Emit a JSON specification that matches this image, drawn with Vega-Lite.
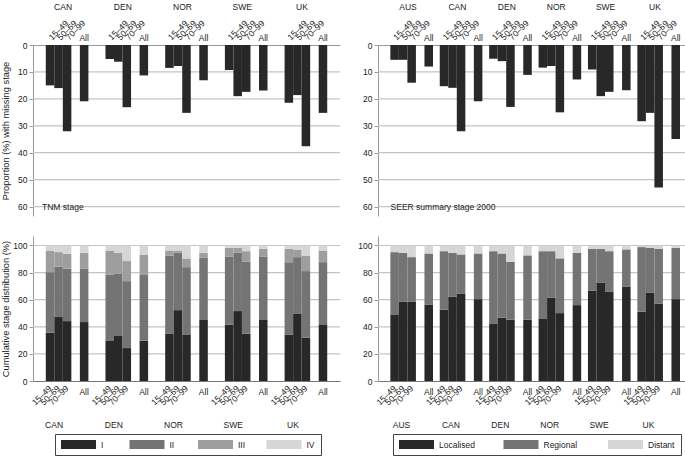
{
  "$schema": "https://vega.github.io/schema/vega-lite/v6.json",
  "description": "Missing stage and stage distribution by country and age, TNM and SEER summary stage.",
  "padding": {"left": 0, "top": 2, "right": 0, "bottom": 0},
  "config": {
    "font": "Liberation Sans",
    "view": {"stroke": null},
    "axis": {
      "labelFontSize": 8.5,
      "labelColor": "#222",
      "titleFontSize": 9.3,
      "titleFontWeight": "normal",
      "titleColor": "#222",
      "domainColor": "#999",
      "tickColor": "#999",
      "grid": false
    },
    "rule": {"color": "#c4c4c4", "strokeWidth": 1.2},
    "text": {"fontSize": 8.5, "color": "#222"},
    "legend": {"labelFontSize": 8.5, "labelColor": "#222"}
  },
  "datasets": {
    "grid_missing": [{"tick": 10}, {"tick": 20}, {"tick": 30}, {"tick": 40}, {"tick": 50}, {"tick": 60}],
    "grid_stage": [{"tick": 20}, {"tick": 40}, {"tick": 60}, {"tick": 80}, {"tick": 100}],
    "tnm_missing": [
      {"country": "CAN", "age": "15–49", "pct": 15.0},
      {"country": "CAN", "age": "50–69", "pct": 16.0},
      {"country": "CAN", "age": "70–99", "pct": 32.0},
      {"country": "CAN", "age": "All", "pct": 20.9},
      {"country": "DEN", "age": "15–49", "pct": 5.2},
      {"country": "DEN", "age": "50–69", "pct": 6.2},
      {"country": "DEN", "age": "70–99", "pct": 23.1},
      {"country": "DEN", "age": "All", "pct": 11.3},
      {"country": "NOR", "age": "15–49", "pct": 8.5},
      {"country": "NOR", "age": "50–69", "pct": 7.8},
      {"country": "NOR", "age": "70–99", "pct": 25.2},
      {"country": "NOR", "age": "All", "pct": 13.1},
      {"country": "SWE", "age": "15–49", "pct": 9.3},
      {"country": "SWE", "age": "50–69", "pct": 19.0},
      {"country": "SWE", "age": "70–99", "pct": 17.4},
      {"country": "SWE", "age": "All", "pct": 16.9},
      {"country": "UK", "age": "15–49", "pct": 21.4},
      {"country": "UK", "age": "50–69", "pct": 18.6},
      {"country": "UK", "age": "70–99", "pct": 37.6},
      {"country": "UK", "age": "All", "pct": 25.2}
    ],
    "seer_missing": [
      {"country": "AUS", "age": "15–49", "pct": 5.5},
      {"country": "AUS", "age": "50–69", "pct": 5.5},
      {"country": "AUS", "age": "70–99", "pct": 14.0},
      {"country": "AUS", "age": "All", "pct": 8.0},
      {"country": "CAN", "age": "15–49", "pct": 15.3},
      {"country": "CAN", "age": "50–69", "pct": 15.9},
      {"country": "CAN", "age": "70–99", "pct": 32.0},
      {"country": "CAN", "age": "All", "pct": 20.9},
      {"country": "DEN", "age": "15–49", "pct": 5.1},
      {"country": "DEN", "age": "50–69", "pct": 6.0},
      {"country": "DEN", "age": "70–99", "pct": 23.0},
      {"country": "DEN", "age": "All", "pct": 11.1},
      {"country": "NOR", "age": "15–49", "pct": 8.4},
      {"country": "NOR", "age": "50–69", "pct": 7.8},
      {"country": "NOR", "age": "70–99", "pct": 25.0},
      {"country": "NOR", "age": "All", "pct": 12.8},
      {"country": "SWE", "age": "15–49", "pct": 9.1},
      {"country": "SWE", "age": "50–69", "pct": 19.0},
      {"country": "SWE", "age": "70–99", "pct": 17.4},
      {"country": "SWE", "age": "All", "pct": 16.8},
      {"country": "UK", "age": "15–49", "pct": 28.3},
      {"country": "UK", "age": "50–69", "pct": 25.2},
      {"country": "UK", "age": "70–99", "pct": 52.9},
      {"country": "UK", "age": "All", "pct": 34.9}
    ],
    "tnm_stage": [
      {"country": "CAN", "age": "15–49", "stage": "I", "pct": 35.6},
      {"country": "CAN", "age": "15–49", "stage": "II", "pct": 44.7},
      {"country": "CAN", "age": "15–49", "stage": "III", "pct": 16.0},
      {"country": "CAN", "age": "15–49", "stage": "IV", "pct": 3.7},
      {"country": "CAN", "age": "50–69", "stage": "I", "pct": 47.2},
      {"country": "CAN", "age": "50–69", "stage": "II", "pct": 37.1},
      {"country": "CAN", "age": "50–69", "stage": "III", "pct": 10.8},
      {"country": "CAN", "age": "50–69", "stage": "IV", "pct": 4.9},
      {"country": "CAN", "age": "70–99", "stage": "I", "pct": 44.2},
      {"country": "CAN", "age": "70–99", "stage": "II", "pct": 38.8},
      {"country": "CAN", "age": "70–99", "stage": "III", "pct": 10.9},
      {"country": "CAN", "age": "70–99", "stage": "IV", "pct": 6.1},
      {"country": "CAN", "age": "All", "stage": "I", "pct": 43.5},
      {"country": "CAN", "age": "All", "stage": "II", "pct": 39.5},
      {"country": "CAN", "age": "All", "stage": "III", "pct": 11.6},
      {"country": "CAN", "age": "All", "stage": "IV", "pct": 5.4},
      {"country": "DEN", "age": "15–49", "stage": "I", "pct": 29.5},
      {"country": "DEN", "age": "15–49", "stage": "II", "pct": 49.1},
      {"country": "DEN", "age": "15–49", "stage": "III", "pct": 17.7},
      {"country": "DEN", "age": "15–49", "stage": "IV", "pct": 3.7},
      {"country": "DEN", "age": "50–69", "stage": "I", "pct": 33.2},
      {"country": "DEN", "age": "50–69", "stage": "II", "pct": 46.2},
      {"country": "DEN", "age": "50–69", "stage": "III", "pct": 15.2},
      {"country": "DEN", "age": "50–69", "stage": "IV", "pct": 5.4},
      {"country": "DEN", "age": "70–99", "stage": "I", "pct": 24.3},
      {"country": "DEN", "age": "70–99", "stage": "II", "pct": 49.4},
      {"country": "DEN", "age": "70–99", "stage": "III", "pct": 14.8},
      {"country": "DEN", "age": "70–99", "stage": "IV", "pct": 11.5},
      {"country": "DEN", "age": "All", "stage": "I", "pct": 29.7},
      {"country": "DEN", "age": "All", "stage": "II", "pct": 48.5},
      {"country": "DEN", "age": "All", "stage": "III", "pct": 15.0},
      {"country": "DEN", "age": "All", "stage": "IV", "pct": 6.8},
      {"country": "NOR", "age": "15–49", "stage": "I", "pct": 35.1},
      {"country": "NOR", "age": "15–49", "stage": "II", "pct": 57.5},
      {"country": "NOR", "age": "15–49", "stage": "III", "pct": 3.7},
      {"country": "NOR", "age": "15–49", "stage": "IV", "pct": 3.7},
      {"country": "NOR", "age": "50–69", "stage": "I", "pct": 52.3},
      {"country": "NOR", "age": "50–69", "stage": "II", "pct": 42.3},
      {"country": "NOR", "age": "50–69", "stage": "III", "pct": 1.7},
      {"country": "NOR", "age": "50–69", "stage": "IV", "pct": 3.7},
      {"country": "NOR", "age": "70–99", "stage": "I", "pct": 34.4},
      {"country": "NOR", "age": "70–99", "stage": "II", "pct": 49.6},
      {"country": "NOR", "age": "70–99", "stage": "III", "pct": 6.4},
      {"country": "NOR", "age": "70–99", "stage": "IV", "pct": 9.6},
      {"country": "NOR", "age": "All", "stage": "I", "pct": 45.0},
      {"country": "NOR", "age": "All", "stage": "II", "pct": 45.9},
      {"country": "NOR", "age": "All", "stage": "III", "pct": 3.7},
      {"country": "NOR", "age": "All", "stage": "IV", "pct": 5.4},
      {"country": "SWE", "age": "15–49", "stage": "I", "pct": 41.5},
      {"country": "SWE", "age": "15–49", "stage": "II", "pct": 50.1},
      {"country": "SWE", "age": "15–49", "stage": "III", "pct": 6.7},
      {"country": "SWE", "age": "15–49", "stage": "IV", "pct": 1.7},
      {"country": "SWE", "age": "50–69", "stage": "I", "pct": 51.6},
      {"country": "SWE", "age": "50–69", "stage": "II", "pct": 43.0},
      {"country": "SWE", "age": "50–69", "stage": "III", "pct": 3.7},
      {"country": "SWE", "age": "50–69", "stage": "IV", "pct": 1.7},
      {"country": "SWE", "age": "70–99", "stage": "I", "pct": 34.9},
      {"country": "SWE", "age": "70–99", "stage": "II", "pct": 53.1},
      {"country": "SWE", "age": "70–99", "stage": "III", "pct": 7.8},
      {"country": "SWE", "age": "70–99", "stage": "IV", "pct": 4.2},
      {"country": "SWE", "age": "All", "stage": "I", "pct": 45.5},
      {"country": "SWE", "age": "All", "stage": "II", "pct": 46.1},
      {"country": "SWE", "age": "All", "stage": "III", "pct": 5.9},
      {"country": "SWE", "age": "All", "stage": "IV", "pct": 2.5},
      {"country": "UK", "age": "15–49", "stage": "I", "pct": 34.4},
      {"country": "UK", "age": "15–49", "stage": "II", "pct": 53.3},
      {"country": "UK", "age": "15–49", "stage": "III", "pct": 9.8},
      {"country": "UK", "age": "15–49", "stage": "IV", "pct": 2.5},
      {"country": "UK", "age": "50–69", "stage": "I", "pct": 49.9},
      {"country": "UK", "age": "50–69", "stage": "II", "pct": 41.5},
      {"country": "UK", "age": "50–69", "stage": "III", "pct": 5.6},
      {"country": "UK", "age": "50–69", "stage": "IV", "pct": 3.0},
      {"country": "UK", "age": "70–99", "stage": "I", "pct": 31.9},
      {"country": "UK", "age": "70–99", "stage": "II", "pct": 49.2},
      {"country": "UK", "age": "70–99", "stage": "III", "pct": 11.5},
      {"country": "UK", "age": "70–99", "stage": "IV", "pct": 7.4},
      {"country": "UK", "age": "All", "stage": "I", "pct": 41.8},
      {"country": "UK", "age": "All", "stage": "II", "pct": 45.9},
      {"country": "UK", "age": "All", "stage": "III", "pct": 8.6},
      {"country": "UK", "age": "All", "stage": "IV", "pct": 3.7}
    ],
    "seer_stage": [
      {"country": "AUS", "age": "15–49", "stage": "Localised", "rank": 1, "pct": 48.7},
      {"country": "AUS", "age": "15–49", "stage": "Regional", "rank": 2, "pct": 46.4},
      {"country": "AUS", "age": "15–49", "stage": "Distant", "rank": 3, "pct": 4.9},
      {"country": "AUS", "age": "50–69", "stage": "Localised", "rank": 1, "pct": 58.4},
      {"country": "AUS", "age": "50–69", "stage": "Regional", "rank": 2, "pct": 36.2},
      {"country": "AUS", "age": "50–69", "stage": "Distant", "rank": 3, "pct": 5.4},
      {"country": "AUS", "age": "70–99", "stage": "Localised", "rank": 1, "pct": 58.4},
      {"country": "AUS", "age": "70–99", "stage": "Regional", "rank": 2, "pct": 33.0},
      {"country": "AUS", "age": "70–99", "stage": "Distant", "rank": 3, "pct": 8.6},
      {"country": "AUS", "age": "All", "stage": "Localised", "rank": 1, "pct": 56.2},
      {"country": "AUS", "age": "All", "stage": "Regional", "rank": 2, "pct": 37.9},
      {"country": "AUS", "age": "All", "stage": "Distant", "rank": 3, "pct": 5.9},
      {"country": "CAN", "age": "15–49", "stage": "Localised", "rank": 1, "pct": 52.6},
      {"country": "CAN", "age": "15–49", "stage": "Regional", "rank": 2, "pct": 43.2},
      {"country": "CAN", "age": "15–49", "stage": "Distant", "rank": 3, "pct": 4.2},
      {"country": "CAN", "age": "50–69", "stage": "Localised", "rank": 1, "pct": 62.1},
      {"country": "CAN", "age": "50–69", "stage": "Regional", "rank": 2, "pct": 32.5},
      {"country": "CAN", "age": "50–69", "stage": "Distant", "rank": 3, "pct": 5.4},
      {"country": "CAN", "age": "70–99", "stage": "Localised", "rank": 1, "pct": 64.5},
      {"country": "CAN", "age": "70–99", "stage": "Regional", "rank": 2, "pct": 28.9},
      {"country": "CAN", "age": "70–99", "stage": "Distant", "rank": 3, "pct": 6.6},
      {"country": "CAN", "age": "All", "stage": "Localised", "rank": 1, "pct": 60.4},
      {"country": "CAN", "age": "All", "stage": "Regional", "rank": 2, "pct": 33.7},
      {"country": "CAN", "age": "All", "stage": "Distant", "rank": 3, "pct": 5.9},
      {"country": "DEN", "age": "15–49", "stage": "Localised", "rank": 1, "pct": 42.1},
      {"country": "DEN", "age": "15–49", "stage": "Regional", "rank": 2, "pct": 53.7},
      {"country": "DEN", "age": "15–49", "stage": "Distant", "rank": 3, "pct": 4.2},
      {"country": "DEN", "age": "50–69", "stage": "Localised", "rank": 1, "pct": 46.7},
      {"country": "DEN", "age": "50–69", "stage": "Regional", "rank": 2, "pct": 47.4},
      {"country": "DEN", "age": "50–69", "stage": "Distant", "rank": 3, "pct": 5.9},
      {"country": "DEN", "age": "70–99", "stage": "Localised", "rank": 1, "pct": 45.2},
      {"country": "DEN", "age": "70–99", "stage": "Regional", "rank": 2, "pct": 42.8},
      {"country": "DEN", "age": "70–99", "stage": "Distant", "rank": 3, "pct": 12.0},
      {"country": "DEN", "age": "All", "stage": "Localised", "rank": 1, "pct": 45.2},
      {"country": "DEN", "age": "All", "stage": "Regional", "rank": 2, "pct": 47.5},
      {"country": "DEN", "age": "All", "stage": "Distant", "rank": 3, "pct": 7.3},
      {"country": "NOR", "age": "15–49", "stage": "Localised", "rank": 1, "pct": 46.2},
      {"country": "NOR", "age": "15–49", "stage": "Regional", "rank": 2, "pct": 49.6},
      {"country": "NOR", "age": "15–49", "stage": "Distant", "rank": 3, "pct": 4.2},
      {"country": "NOR", "age": "50–69", "stage": "Localised", "rank": 1, "pct": 61.6},
      {"country": "NOR", "age": "50–69", "stage": "Regional", "rank": 2, "pct": 34.2},
      {"country": "NOR", "age": "50–69", "stage": "Distant", "rank": 3, "pct": 4.2},
      {"country": "NOR", "age": "70–99", "stage": "Localised", "rank": 1, "pct": 50.1},
      {"country": "NOR", "age": "70–99", "stage": "Regional", "rank": 2, "pct": 40.4},
      {"country": "NOR", "age": "70–99", "stage": "Distant", "rank": 3, "pct": 9.5},
      {"country": "NOR", "age": "All", "stage": "Localised", "rank": 1, "pct": 56.0},
      {"country": "NOR", "age": "All", "stage": "Regional", "rank": 2, "pct": 38.6},
      {"country": "NOR", "age": "All", "stage": "Distant", "rank": 3, "pct": 5.4},
      {"country": "SWE", "age": "15–49", "stage": "Localised", "rank": 1, "pct": 66.5},
      {"country": "SWE", "age": "15–49", "stage": "Regional", "rank": 2, "pct": 31.1},
      {"country": "SWE", "age": "15–49", "stage": "Distant", "rank": 3, "pct": 2.4},
      {"country": "SWE", "age": "50–69", "stage": "Localised", "rank": 1, "pct": 72.6},
      {"country": "SWE", "age": "50–69", "stage": "Regional", "rank": 2, "pct": 25.0},
      {"country": "SWE", "age": "50–69", "stage": "Distant", "rank": 3, "pct": 2.4},
      {"country": "SWE", "age": "70–99", "stage": "Localised", "rank": 1, "pct": 65.8},
      {"country": "SWE", "age": "70–99", "stage": "Regional", "rank": 2, "pct": 30.0},
      {"country": "SWE", "age": "70–99", "stage": "Distant", "rank": 3, "pct": 4.2},
      {"country": "SWE", "age": "All", "stage": "Localised", "rank": 1, "pct": 69.7},
      {"country": "SWE", "age": "All", "stage": "Regional", "rank": 2, "pct": 27.4},
      {"country": "SWE", "age": "All", "stage": "Distant", "rank": 3, "pct": 2.9},
      {"country": "UK", "age": "15–49", "stage": "Localised", "rank": 1, "pct": 51.1},
      {"country": "UK", "age": "15–49", "stage": "Regional", "rank": 2, "pct": 47.7},
      {"country": "UK", "age": "15–49", "stage": "Distant", "rank": 3, "pct": 1.2},
      {"country": "UK", "age": "50–69", "stage": "Localised", "rank": 1, "pct": 65.3},
      {"country": "UK", "age": "50–69", "stage": "Regional", "rank": 2, "pct": 33.0},
      {"country": "UK", "age": "50–69", "stage": "Distant", "rank": 3, "pct": 1.7},
      {"country": "UK", "age": "70–99", "stage": "Localised", "rank": 1, "pct": 57.2},
      {"country": "UK", "age": "70–99", "stage": "Regional", "rank": 2, "pct": 40.4},
      {"country": "UK", "age": "70–99", "stage": "Distant", "rank": 3, "pct": 2.4},
      {"country": "UK", "age": "All", "stage": "Localised", "rank": 1, "pct": 60.4},
      {"country": "UK", "age": "All", "stage": "Regional", "rank": 2, "pct": 37.9},
      {"country": "UK", "age": "All", "stage": "Distant", "rank": 3, "pct": 1.7}
    ]
  },
  "spacing": 20,
  "resolve": {"scale": {"color": "independent"}, "legend": {"color": "independent"}},
  "vconcat": [
    {
      "hconcat": [
        {
          "width": 307,
          "height": 171,
          "layer": [
            {
              "data": {"name": "grid_missing"},
              "mark": {"type": "rule"},
              "encoding": {
                "y": {
                  "field": "tick", "type": "quantitative",
                  "scale": {"domain": [0, 63.5], "reverse": true, "nice": false},
                  "axis": {"title": "Proportion (%) with missing stage", "values": [0, 10, 20, 30, 40, 50, 60], "tickSize": 4, "labelPadding": 2, "titleX": -23}
                }
              }
            },
            {
              "data": {"name": "tnm_missing"},
              "encoding": {
                "x": {
                  "field": "country", "type": "nominal",
                  "scale": {"domain": ["CAN", "DEN", "NOR", "SWE", "UK"], "paddingInner": 0.286, "paddingOuter": 0.214},
                  "axis": {"orient": "top", "title": null, "ticks": false, "labelAngle": 0, "labelPadding": 34, "labelOffset": -4}
                },
                "xOffset": {
                  "field": "age", "type": "nominal",
                  "scale": {"domain": ["15–49", "50–69", "70–99", "gap", "All"], "paddingInner": 0, "paddingOuter": 0}
                }
              },
              "layer": [
                {
                  "mark": {"type": "bar", "color": "#282828"},
                  "encoding": {
                    "y": {
                      "field": "pct", "type": "quantitative",
                      "scale": {"domain": [0, 63.5], "reverse": true, "nice": false},
                      "axis": {"title": "Proportion (%) with missing stage", "values": [0, 10, 20, 30, 40, 50, 60], "tickSize": 4, "labelPadding": 2, "titleX": -23}
                    }
                  }
                },
                {
                  "transform": [{"filter": "datum.age != 'All'"}],
                  "mark": {"type": "text", "angle": 315, "align": "left", "baseline": "middle"},
                  "encoding": {
                    "y": {
                      "datum": -2.4,
                      "scale": {"domain": [0, 63.5], "reverse": true, "nice": false},
                      "axis": {"title": "Proportion (%) with missing stage", "values": [0, 10, 20, 30, 40, 50, 60], "tickSize": 4, "labelPadding": 2, "titleX": -23}
                    },
                    "text": {"field": "age"}
                  }
                },
                {
                  "transform": [{"filter": "datum.age == 'All'"}],
                  "mark": {"type": "text", "align": "center", "baseline": "alphabetic"},
                  "encoding": {
                    "y": {
                      "datum": -1.5,
                      "scale": {"domain": [0, 63.5], "reverse": true, "nice": false},
                      "axis": {"title": "Proportion (%) with missing stage", "values": [0, 10, 20, 30, 40, 50, 60], "tickSize": 4, "labelPadding": 2, "titleX": -23}
                    },
                    "text": {"field": "age"}
                  }
                },
                {
                  "data": {"values": [{"note": "TNM stage"}]},
                  "mark": {"type": "text", "align": "left", "baseline": "middle", "dx": -8},
                  "encoding": {
                    "x": {"datum": "CAN"},
                    "xOffset": {"datum": "15–49"},
                    "y": {
                      "datum": 60,
                      "scale": {"domain": [0, 63.5], "reverse": true, "nice": false},
                      "axis": {"title": "Proportion (%) with missing stage", "values": [0, 10, 20, 30, 40, 50, 60], "tickSize": 4, "labelPadding": 2, "titleX": -23}
                    },
                    "text": {"field": "note"}
                  }
                }
              ]
            }
          ]
        },
        {
          "width": 307,
          "height": 171,
          "layer": [
            {
              "data": {"name": "grid_missing"},
              "mark": {"type": "rule"},
              "encoding": {
                "y": {
                  "field": "tick", "type": "quantitative",
                  "scale": {"domain": [0, 63.5], "reverse": true, "nice": false},
                  "axis": {"title": null, "values": [0, 10, 20, 30, 40, 50, 60], "tickSize": 4, "labelPadding": 2}
                }
              }
            },
            {
              "data": {"name": "seer_missing"},
              "encoding": {
                "x": {
                  "field": "country", "type": "nominal",
                  "scale": {"domain": ["AUS", "CAN", "DEN", "NOR", "SWE", "UK"], "paddingInner": 0.2857, "paddingOuter": 0.25},
                  "axis": {"orient": "top", "title": null, "ticks": false, "labelAngle": 0, "labelPadding": 34, "labelOffset": 0}
                },
                "xOffset": {
                  "field": "age", "type": "nominal",
                  "scale": {"domain": ["15–49", "50–69", "70–99", "gap", "All"], "paddingInner": 0, "paddingOuter": 0}
                }
              },
              "layer": [
                {
                  "mark": {"type": "bar", "color": "#282828"},
                  "encoding": {
                    "y": {
                      "field": "pct", "type": "quantitative",
                      "scale": {"domain": [0, 63.5], "reverse": true, "nice": false},
                      "axis": {"title": null, "values": [0, 10, 20, 30, 40, 50, 60], "tickSize": 4, "labelPadding": 2}
                    }
                  }
                },
                {
                  "transform": [{"filter": "datum.age != 'All'"}],
                  "mark": {"type": "text", "angle": 315, "align": "left", "baseline": "middle"},
                  "encoding": {
                    "y": {
                      "datum": -2.4,
                      "scale": {"domain": [0, 63.5], "reverse": true, "nice": false},
                      "axis": {"title": null, "values": [0, 10, 20, 30, 40, 50, 60], "tickSize": 4, "labelPadding": 2}
                    },
                    "text": {"field": "age"}
                  }
                },
                {
                  "transform": [{"filter": "datum.age == 'All'"}],
                  "mark": {"type": "text", "align": "center", "baseline": "alphabetic"},
                  "encoding": {
                    "y": {
                      "datum": -1.5,
                      "scale": {"domain": [0, 63.5], "reverse": true, "nice": false},
                      "axis": {"title": null, "values": [0, 10, 20, 30, 40, 50, 60], "tickSize": 4, "labelPadding": 2}
                    },
                    "text": {"field": "age"}
                  }
                },
                {
                  "data": {"values": [{"note": "SEER summary stage 2000"}]},
                  "mark": {"type": "text", "align": "left", "baseline": "middle", "dx": -4},
                  "encoding": {
                    "x": {"datum": "AUS"},
                    "xOffset": {"datum": "15–49"},
                    "y": {
                      "datum": 60,
                      "scale": {"domain": [0, 63.5], "reverse": true, "nice": false},
                      "axis": {"title": null, "values": [0, 10, 20, 30, 40, 50, 60], "tickSize": 4, "labelPadding": 2}
                    },
                    "text": {"field": "note"}
                  }
                }
              ]
            }
          ]
        }
      ],
      "spacing": 38,
      "bounds": "flush"
    },
    {
      "hconcat": [
        {
          "width": 307,
          "height": 145,
          "layer": [
            {
              "data": {"name": "grid_stage"},
              "mark": {"type": "rule"},
              "encoding": {
                "y": {
                  "field": "tick", "type": "quantitative",
                  "scale": {"domain": [0, 107], "nice": false},
                  "axis": {"title": "Cumulative stage distribution (%)", "values": [0, 20, 40, 60, 80, 100], "tickSize": 4, "labelPadding": 2, "titleX": -23}
                }
              }
            },
            {
              "data": {"name": "tnm_stage"},
              "encoding": {
                "x": {
                  "field": "country", "type": "nominal",
                  "scale": {"domain": ["CAN", "DEN", "NOR", "SWE", "UK"], "paddingInner": 0.286, "paddingOuter": 0.214},
                  "axis": {"orient": "bottom", "title": null, "ticks": false, "labelAngle": 0, "labelPadding": 39, "labelBaseline": "top", "labelOffset": -13, "domainColor": "#777"}
                },
                "xOffset": {
                  "field": "age", "type": "nominal",
                  "scale": {"domain": ["15–49", "50–69", "70–99", "gap", "All"], "paddingInner": 0, "paddingOuter": 0}
                }
              },
              "layer": [
                {
                  "mark": {"type": "bar"},
                  "encoding": {
                    "y": {
                      "field": "pct", "type": "quantitative", "stack": "zero",
                      "scale": {"domain": [0, 107], "nice": false},
                      "axis": {"title": "Cumulative stage distribution (%)", "values": [0, 20, 40, 60, 80, 100], "tickSize": 4, "labelPadding": 2, "titleX": -23}
                    },
                    "color": {
                      "field": "stage", "type": "nominal",
                      "scale": {"domain": ["I", "II", "III", "IV"], "range": ["#282828", "#747474", "#9e9e9e", "#d6d6d6"]},
                      "legend": {
                        "orient": "none", "legendX": 22, "legendY": 198, "direction": "horizontal", "title": null,
                        "symbolType": "M-1,-1H6.78V1H-1Z", "symbolSize": 81, "symbolStrokeWidth": 0,
                        "labelOffset": 31, "columnPadding": 19.5, "gridAlign": "all",
                        "strokeColor": "#444", "padding": 6
                      }
                    },
                    "order": {"field": "stage", "type": "ordinal", "sort": "ascending"}
                  }
                },
                {
                  "transform": [{"filter": "datum.age != 'All' && datum.stage == 'I'"}],
                  "mark": {"type": "text", "angle": 315, "align": "right", "baseline": "middle"},
                  "encoding": {
                    "y": {
                      "datum": -4.4,
                      "scale": {"domain": [0, 107], "nice": false},
                      "axis": {"title": "Cumulative stage distribution (%)", "values": [0, 20, 40, 60, 80, 100], "tickSize": 4, "labelPadding": 2, "titleX": -23}
                    },
                    "text": {"field": "age"}
                  }
                },
                {
                  "transform": [{"filter": "datum.age == 'All' && datum.stage == 'I'"}],
                  "mark": {"type": "text", "align": "center", "baseline": "top"},
                  "encoding": {
                    "y": {
                      "datum": -5,
                      "scale": {"domain": [0, 107], "nice": false},
                      "axis": {"title": "Cumulative stage distribution (%)", "values": [0, 20, 40, 60, 80, 100], "tickSize": 4, "labelPadding": 2, "titleX": -23}
                    },
                    "text": {"field": "age"}
                  }
                }
              ]
            }
          ]
        },
        {
          "width": 307,
          "height": 145,
          "layer": [
            {
              "data": {"name": "grid_stage"},
              "mark": {"type": "rule"},
              "encoding": {
                "y": {
                  "field": "tick", "type": "quantitative",
                  "scale": {"domain": [0, 107], "nice": false},
                  "axis": {"title": null, "values": [0, 20, 40, 60, 80, 100], "tickSize": 4, "labelPadding": 2}
                }
              }
            },
            {
              "data": {"name": "seer_stage"},
              "encoding": {
                "x": {
                  "field": "country", "type": "nominal",
                  "scale": {"domain": ["AUS", "CAN", "DEN", "NOR", "SWE", "UK"], "paddingInner": 0.2857, "paddingOuter": 0.25},
                  "axis": {"orient": "bottom", "title": null, "ticks": false, "labelAngle": 0, "labelPadding": 39, "labelBaseline": "top", "labelOffset": -6.5, "domainColor": "#777"}
                },
                "xOffset": {
                  "field": "age", "type": "nominal",
                  "scale": {"domain": ["15–49", "50–69", "70–99", "gap", "All"], "paddingInner": 0, "paddingOuter": 0}
                }
              },
              "layer": [
                {
                  "mark": {"type": "bar"},
                  "encoding": {
                    "y": {
                      "field": "pct", "type": "quantitative", "stack": "zero",
                      "scale": {"domain": [0, 107], "nice": false},
                      "axis": {"title": null, "values": [0, 20, 40, 60, 80, 100], "tickSize": 4, "labelPadding": 2}
                    },
                    "color": {
                      "field": "stage", "type": "nominal",
                      "scale": {"domain": ["Localised", "Regional", "Distant"], "range": ["#282828", "#747474", "#d6d6d6"]},
                      "legend": {
                        "orient": "none", "legendX": 15, "legendY": 198, "direction": "horizontal", "title": null,
                        "symbolType": "M-1,-1H6.78V1H-1Z", "symbolSize": 81, "symbolStrokeWidth": 0,
                        "labelOffset": 31, "columnPadding": 28.5, "gridAlign": "all",
                        "strokeColor": "#444", "padding": 6
                      }
                    },
                    "order": {"field": "rank", "type": "quantitative"}
                  }
                },
                {
                  "transform": [{"filter": "datum.age != 'All' && datum.stage == 'Localised'"}],
                  "mark": {"type": "text", "angle": 315, "align": "right", "baseline": "middle"},
                  "encoding": {
                    "y": {
                      "datum": -4.4,
                      "scale": {"domain": [0, 107], "nice": false},
                      "axis": {"title": null, "values": [0, 20, 40, 60, 80, 100], "tickSize": 4, "labelPadding": 2}
                    },
                    "text": {"field": "age"}
                  }
                },
                {
                  "transform": [{"filter": "datum.age == 'All' && datum.stage == 'Localised'"}],
                  "mark": {"type": "text", "align": "center", "baseline": "top"},
                  "encoding": {
                    "y": {
                      "datum": -5,
                      "scale": {"domain": [0, 107], "nice": false},
                      "axis": {"title": null, "values": [0, 20, 40, 60, 80, 100], "tickSize": 4, "labelPadding": 2}
                    },
                    "text": {"field": "age"}
                  }
                }
              ]
            }
          ]
        }
      ],
      "spacing": 38,
      "bounds": "flush",
      "resolve": {"scale": {"color": "independent"}, "legend": {"color": "independent"}}
    }
  ]
}
